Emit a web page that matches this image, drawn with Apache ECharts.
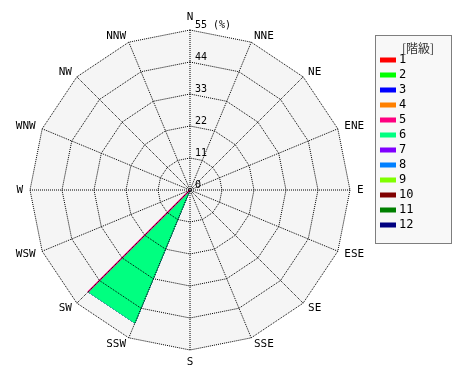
<!DOCTYPE html>
<html><head><meta charset="utf-8">
<script src="https://cdn.jsdelivr.net/npm/echarts@6/dist/echarts.min.js"></script>
<style>html,body{margin:0;padding:0;background:#fff}#c{width:470px;height:380px}</style>
</head><body><div id="c"></div>
<script>
// Directions, clockwise from north
const directions = ['N','NNE','NE','ENE','E','ESE','SE','SSE','S','SSW','SW','WSW','W','WNW','NW','NNW'];
// Frequency (%) per class, per direction (same order as directions)
const class1  = [0,0,0,0,0,0,0,0,0,0,0,0,0,0,0,0];
const class2  = [0,0,0,0,0,0,0,0,0,0,0,0,0,0,0,0];
const class3  = [0,0,0,0,0,0,0,0,0,0,0,0,0,0,0,0];
const class4  = [0,0,0,0,0,0,0,0,0,0,0,0,0,0,0,0];
const class5  = [0,0,0,0,0,0,0,0,0,0,49.5,0,0,0,0,0];
const class6  = [0,0,0,0,0,0,0,0,0,49.5,0,0,0,0,0,0];
const class7  = [0,0,0,0,0,0,0,0,0,0,0,0,0,0,0,0];
const class8  = [0,0,0,0,0,0,0,0,0,0,0,0,0,0,0,0];
const class9  = [0,0,0,0,0,0,0,0,0,0,0,0,0,0,0,0];
const class10 = [0,0,0,0,0,0,0,0,0,0,0,0,0,0,0,0];
const class11 = [0,0,0,0,0,0,0,0,0,0,0,0,0,0,0,0];
const class12 = [0,0,0,0,0,0,0,0,0,0,0,0,0,0,0,0];
const classNames = ['1','2','3','4','5','6','7','8','9','10','11','12'];
const classColors = ['#ff0000','#00ff00','#0000ff','#ff8000','#ff0080','#00ff80','#8000ff','#0080ff','#80ff00','#800000','#008000','#000080'];
const radiusTicks = [0,11,22,33,44,55];

const classes = [class1,class2,class3,class4,class5,class6,class7,class8,class9,class10,class11,class12];
// cumulative
const cum = [];
let run = directions.map(()=>0);
classes.forEach(c=>{ run = run.map((v,i)=>v+c[i]); cum.push(run.slice()); });

// radar indicators go counter-clockwise: reorder
const order = [0,15,14,13,12,11,10,9,8,7,6,5,4,3,2,1];
const font = '"DejaVu Sans Mono", monospace';
const maxR = radiusTicks[radiusTicks.length-1];

const radarData = [];
for (let k = classes.length-1; k >= 0; k--) {
  radarData.push({
    name: classNames[k],
    value: order.map(i=>cum[k][i]),
    itemStyle: {color: classColors[k]},
    lineStyle: {color: classColors[k], width: k===4 ? 1.5 : 1},
    areaStyle: {color: classColors[k], opacity: 1}
  });
}

const chart = echarts.init(document.getElementById('c'), null, {renderer:'canvas'});
chart.setOption({
  animation: false,
  graphic: [{
    type: 'rect', left: 375, top: 35, z: -1,
    shape: {width: 76, height: 208},
    style: {fill: '#f8f8f8', stroke: '#000', lineWidth: 1, lineDash: [1,1]}
  }],
  title: {
    text: '[階級]', left: 413, top: 37, textAlign: 'center',
    textStyle: {fontSize: 12, fontWeight: 'normal', color: '#333', fontFamily: '"Noto Sans CJK JP", monospace'}
  },
  legend: {
    orient: 'vertical', left: 380, top: 53, padding: 0,
    itemWidth: 16, itemHeight: 5, itemGap: 1,
    icon: 'rect',
    data: classNames,
    textStyle: {fontSize: 12, lineHeight: 14, color: '#000', fontFamily: font, padding: [0,0,0,-2]}
  },
  radar: [{
    center: [190,190], radius: 160, startAngle: 90, splitNumber: 5,
    shape: 'polygon', z: 1,
    indicator: order.map(i=>({name: directions[i], min: 0, max: maxR})),
    axisName: {color: '#000', fontSize: 11, fontFamily: font},
    nameGap: 7,
    splitLine: {show: false},
    splitArea: {show: true, areaStyle: {color: ['#f5f5f5']}},
    axisLine: {show: false}
  }, {
    center: [190,190], radius: 160, startAngle: 90, splitNumber: 5,
    shape: 'polygon', z: 4,
    indicator: order.map(i=>({name: '', min: 0, max: maxR})),
    axisName: {show: false},
    splitLine: {lineStyle: {color: '#000', type: 'dotted', width: 1}},
    splitArea: {show: false},
    axisLine: {show: false}
  }],
  polar: {center: [190,190], radius: 160},
  angleAxis: {
    show: true, startAngle: 90, min: 0, max: 360, interval: 22.5,
    axisLine: {show: false}, axisTick: {show: false}, axisLabel: {show: false},
    splitLine: {show: true, lineStyle: {color: '#000', type: 'dotted', width: 1}},
    z: 4
  },
  radiusAxis: {
    min: 0, max: maxR, interval: 11, z: 5,
    axisLine: {show: false}, axisTick: {show: false}, splitLine: {show: false},
    axisLabel: {show: true, margin: -5, verticalAlign: 'bottom', align: 'left',
      fontSize: 10, color: '#000', fontFamily: font,
      formatter: v => v === maxR ? v + ' (%)' : String(v)}
  },
  series: [{
    type: 'radar', symbol: 'none', z: 2, radarIndex: 0,
    data: radarData
  }]
});
</script></body></html>
